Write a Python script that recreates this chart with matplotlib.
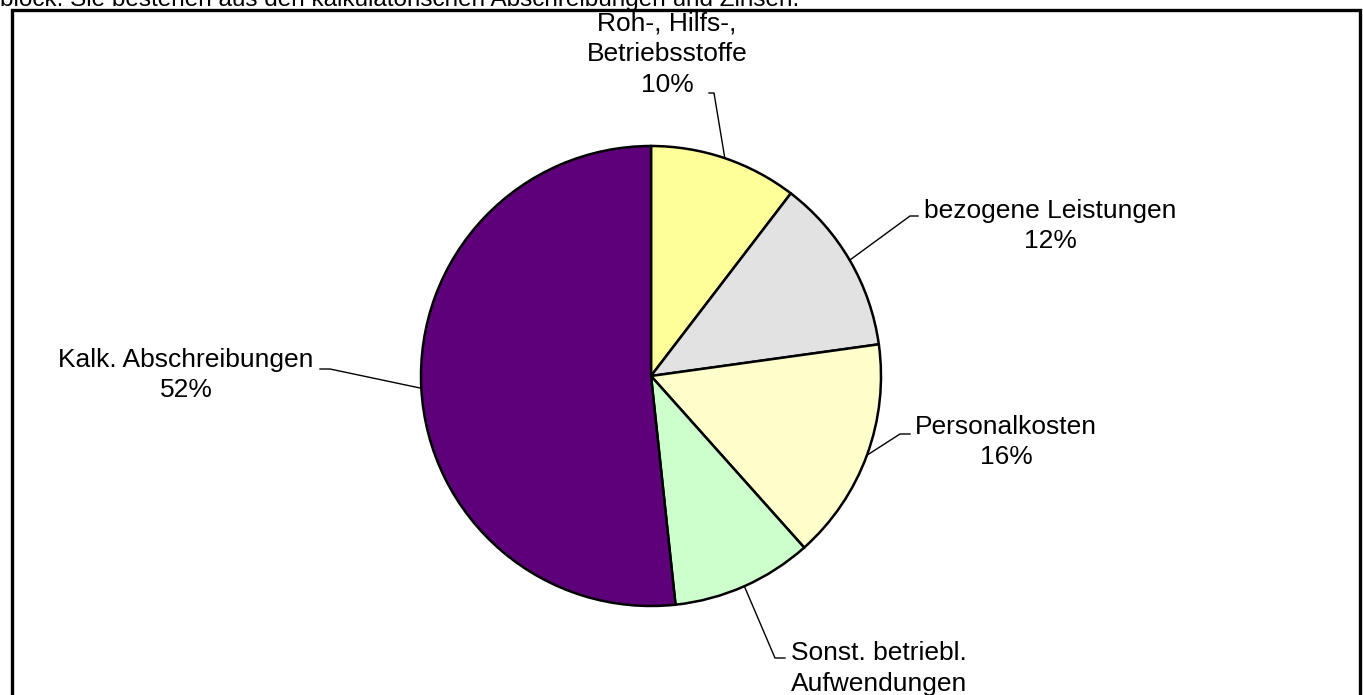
import matplotlib
matplotlib.use("Agg")
import matplotlib.pyplot as plt
import numpy as np

# Daten
kategorien = ["Roh-, Hilfs-,\nBetriebsstoffe", "bezogene Leistungen", "Personalkosten",
              "Sonst. betriebl.\nAufwendungen", "Kalk. Abschreibungen"]
anteile = [10.4, 12.4, 15.6, 9.9, 51.7]
farben = ["#FFFF99", "#E2E2E2", "#FFFFCC", "#CCFFCC", "#5E0079"]

kopftext = "block. Sie bestehen aus den kalkulatorischen Abschreibungen und Zinsen."

W, H = 1363, 695

def py(y):
    # Pixel von oben -> Achsenkoordinate
    return H - y

plt.rcParams['font.family'] = ['Liberation Sans', 'DejaVu Sans']

fig = plt.figure(figsize=(W / 100, H / 100), dpi=100)
ax = fig.add_axes([0, 0, 1, 1])

wedges, _ = ax.pie(anteile, colors=farben, startangle=90, counterclock=False,
                   center=(651, py(376)), radius=230,
                   wedgeprops=dict(edgecolor="black", linewidth=1.8))

ax.set_aspect("auto")
ax.set_xlim(0, W)
ax.set_ylim(0, H)
ax.axis("off")

# Rahmen (unten offen, abgeschnitten)
ax.plot([12, 12, 1360, 1360], [py(720), py(10), py(10), py(720)],
        color="black", lw=2.4, clip_on=False, solid_joinstyle="miter")

# abgeschnittener Text oben
ax.text(0, py(6), kopftext, fontsize=17.5, ha="left", va="baseline")

# Beschriftungen mit Fuehrungslinien
text_pos = [(667, 54), (1050, 226), (1006, 442), (879, 684), (186, 375)]
knick = [(714, 93), (910, 216), (900, 434), (775, 658), (330, 369)]
ende = [(709, 93), (918, 216), (910, 434), (785, 658), (320, 369)]

cx, cy = 651, py(376)
for i, w in enumerate(wedges):
    mitte = np.deg2rad((w.theta1 + w.theta2) / 2)
    sx = cx + 230 * np.cos(mitte)
    sy = cy + 230 * np.sin(mitte)
    ax.plot([sx, knick[i][0], ende[i][0]], [sy, py(knick[i][1]), py(ende[i][1])],
            color="black", lw=1.0)
    label = kategorien[i] + "\n" + f"{anteile[i]:.0f}%"
    ax.text(text_pos[i][0], py(text_pos[i][1]), label, fontsize=19,
            ha="center", va="center", multialignment="center", linespacing=1.35)

fig.savefig("out.png", dpi=100)
